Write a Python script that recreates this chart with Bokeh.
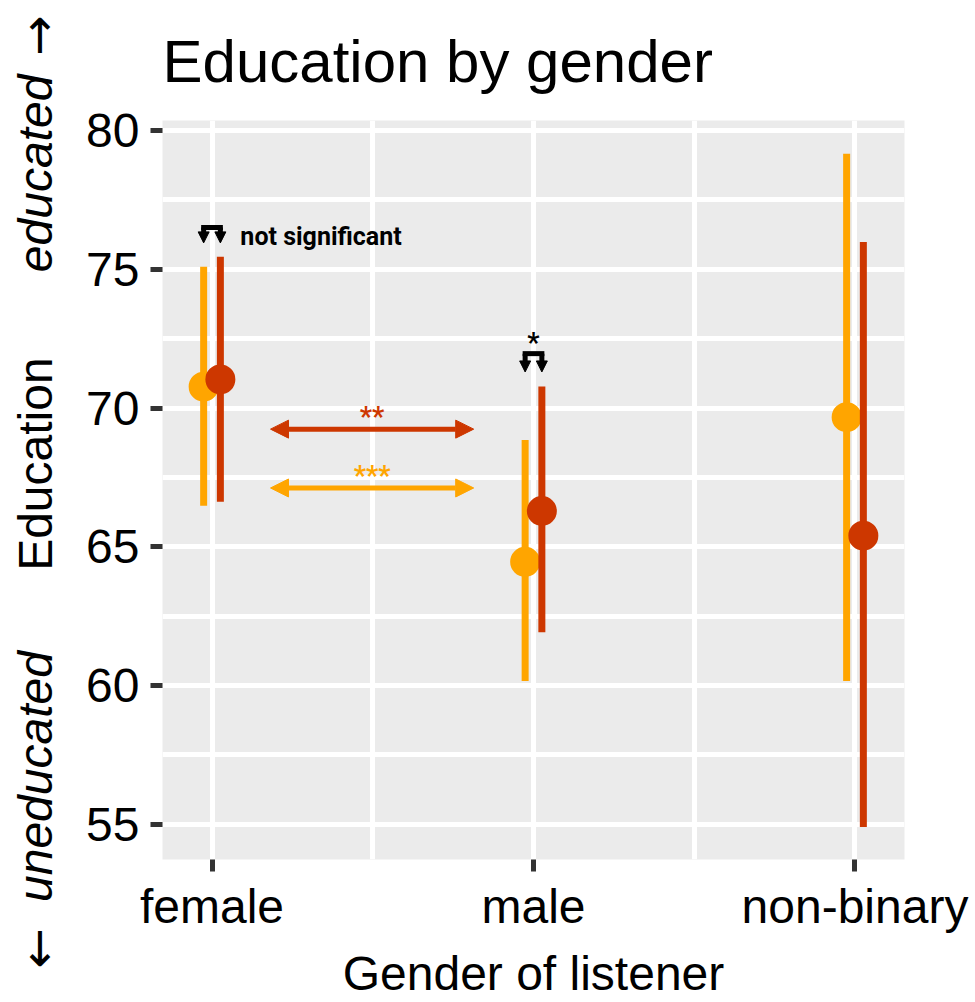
import math
from bokeh.plotting import figure
from bokeh.layouts import row
from bokeh.models import Range1d, FixedTicker, Label, Arrow, NormalHead
from bokeh.core.properties import value
from bokeh.embed import file_html
from bokeh.resources import INLINE

# ---------------- data ----------------
groups = ["female", "male", "non-binary"]

orange_mean = [70.77, 64.46, 69.67]
orange_low = [66.48, 60.17, 60.17]
orange_high = [75.09, 68.85, 79.16]

red_mean = [71.03, 66.29, 65.40]
red_low = [66.62, 61.92, 54.91]
red_high = [75.45, 70.78, 75.98]

y_ticks = [55, 60, 65, 70, 75, 80]
y_minor = [57.5, 62.5, 67.5, 72.5, 77.5]

# within-group comparisons (brackets)
bracket_group = ["female", "male"]
bracket_top = [76.50, 71.96]
bracket_tip = [75.95, 71.30]
bracket_text = ["not significant", "*"]

# between-group comparisons (female vs male)
cmp_y = [69.24, 67.12]
cmp_from = [1.182, 1.182]
cmp_to = [1.814, 1.814]
cmp_text = ["**", "***"]

# side texts of the y axis (position on the value scale)
side_text = ["educated", "Education", "uneducated"]
side_y = [78.46, 68.03, 56.82]
side_style = ["italic", "normal", "italic"]
side_arrow = ["\u2192", "\u2190"]
side_arrow_y = [83.40, 50.66]

ORANGE = "#FFA500"
RED = "#CD3700"
cmp_color = [RED, ORANGE]
DODGE = 0.026
FONT = "Liberation Sans"
ANN_FONT = "Roboto"
ARROW_FONT = "DejaVu Sans"

X0, X1 = 0.846, 3.154
Y0, Y1 = 53.735, 80.359
TOP, BOTTOM = 120, 140
H = 1002
SIDE_W = 72
MAIN_W = 975 - SIDE_W

x_pos = [i + 1 for i in range(len(groups))]
xa = [x - DODGE for x in x_pos]
xb = [x + DODGE for x in x_pos]

p = figure(width=MAIN_W, height=H,
           x_range=Range1d(X0, X1), y_range=Range1d(Y0, Y1),
           output_backend="svg", toolbar_location=None,
           min_border_left=162 - SIDE_W, min_border_right=71,
           min_border_top=TOP, min_border_bottom=BOTTOM)
p.frame_align = False

p.background_fill_color = "#EBEBEB"
p.border_fill_color = "white"
p.outline_line_color = None

# title
p.title.text = "Education by gender"
p.title.text_font = FONT
p.title.text_font_size = "60px"
p.title.text_font_style = "normal"
p.title.text_color = "black"
p.title.align = "left"
p.title.vertical_align = "middle"
p.title.standoff = 50
p.title.offset = 0

# grids
p.xgrid.ticker = FixedTicker(ticks=x_pos, minor_ticks=[1.5, 2.5])
p.ygrid.ticker = FixedTicker(ticks=y_ticks, minor_ticks=y_minor)
for g in (p.xgrid, p.ygrid):
    g.grid_line_color = "white"
    g.grid_line_width = 5
    g.minor_grid_line_color = "white"
    g.minor_grid_line_width = 5

# axes
p.xaxis.ticker = FixedTicker(ticks=x_pos)
p.xaxis.major_label_overrides = {x: g for x, g in zip(x_pos, groups)}
p.yaxis.ticker = FixedTicker(ticks=y_ticks)
p.xaxis.axis_label = "Gender of listener"
for ax in (p.xaxis, p.yaxis):
    ax.axis_line_color = None
    ax.major_tick_line_color = "#333333"
    ax.major_tick_line_width = 5
    ax.major_tick_out = 12
    ax.major_tick_in = 0
    ax.minor_tick_line_color = None
    ax.major_label_text_font = FONT
    ax.major_label_text_font_size = "48px"
    ax.major_label_text_color = "black"
    ax.axis_label_text_font = FONT
    ax.axis_label_text_font_size = "48px"
    ax.axis_label_text_font_style = "normal"
    ax.axis_label_text_color = "black"
p.xaxis.major_label_standoff = 8
p.xaxis.axis_label_standoff = 11
p.yaxis.major_label_standoff = 11

# error bars and points
p.segment(x0=xa, y0=orange_low, x1=xa, y1=orange_high, line_width=7, line_color=ORANGE)
p.scatter(x=xa, y=orange_mean, size=30, fill_color=ORANGE, line_color=None)
p.segment(x0=xb, y0=red_low, x1=xb, y1=red_high, line_width=7, line_color=RED)
p.scatter(x=xb, y=red_mean, size=30, fill_color=RED, line_color=None)

# within-group brackets
for grp, top, tip, txt in zip(bracket_group, bracket_top, bracket_tip, bracket_text):
    gx = groups.index(grp) + 1
    x1, x2 = gx - DODGE, gx + DODGE
    p.segment(x0=[x1], y0=[top], x1=[x2], y1=[top], line_width=5,
              line_color="black", line_cap="square")
    for xx in (x1, x2):
        p.add_layout(Arrow(end=NormalHead(size=11, fill_color="black", line_color="black"),
                           x_start=xx, y_start=top, x_end=xx, y_end=tip,
                           line_width=5, line_color="black"))
    if txt == "not significant":
        p.add_layout(Label(x=x2, y=top, text=txt, x_offset=20, y_offset=-9,
                           text_font=ANN_FONT, text_font_style="bold",
                           text_font_size="25px", text_color="black",
                           text_align="left", text_baseline="alphabetic"))
    else:
        p.add_layout(Label(x=gx, y=top, text=txt, y_offset=11,
                           text_font=ANN_FONT, text_font_style="bold",
                           text_font_size="27px", text_color="black",
                           text_align="center", text_baseline="middle"))

# between-group double arrows
for y, xs, xe, txt, col in zip(cmp_y, cmp_from, cmp_to, cmp_text, cmp_color):
    p.add_layout(Arrow(start=NormalHead(size=18, fill_color=col, line_color=col),
                       end=NormalHead(size=18, fill_color=col, line_color=col),
                       x_start=xs, y_start=y, x_end=xe, y_end=y,
                       line_width=5, line_color=col))
    p.add_layout(Label(x=(xs + xe) / 2, y=y, text=txt, y_offset=12,
                       text_font=ANN_FONT, text_font_style="bold",
                       text_font_size="27px", text_color=col,
                       text_align="center", text_baseline="middle"))

# side strip with the y-axis title and direction hints
frame_h = H - TOP - BOTTOM
ppu = frame_h / (Y1 - Y0)
side = figure(width=SIDE_W, height=H,
              x_range=Range1d(0, SIDE_W),
              y_range=Range1d(Y0 - BOTTOM / ppu, Y1 + TOP / ppu),
              output_backend="svg", toolbar_location=None,
              x_axis_type=None, y_axis_type=None, min_border=0)
side.frame_align = False
side.outline_line_color = None
side.background_fill_color = "white"
side.border_fill_color = "white"
for txt, yy, st in zip(side_text, side_y, side_style):
    side.text(x=[35], y=[yy], text=[txt], angle=math.pi / 2,
              text_font=value(FONT), text_font_style=st, text_font_size="48px",
              text_color="black", text_align="center", text_baseline="middle")
side.text(x=[37, 37], y=side_arrow_y, text=side_arrow, angle=math.pi / 2,
          text_font=value(ARROW_FONT), text_font_style="normal", text_font_size="48px",
          text_color="black", text_align="center", text_baseline="middle")

layout = row(side, p, spacing=0)
open("out.html", "w").write(file_html(layout, INLINE))
